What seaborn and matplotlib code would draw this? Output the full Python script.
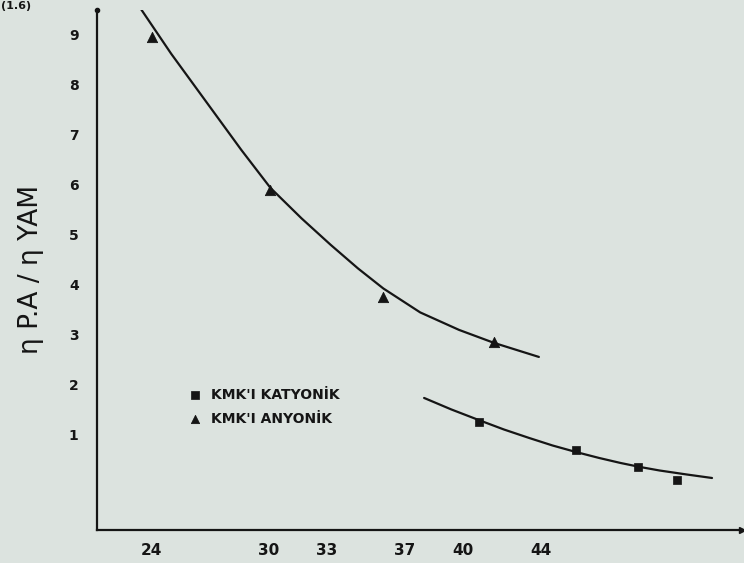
import numpy as np
import pandas as pd
import matplotlib
matplotlib.use("Agg")
import matplotlib.pyplot as plt
import seaborn as sns

# ---- data ----
x_ticks = [24, 30, 33, 37, 40, 44]
y_ticks = [1, 2, 3, 4, 5, 6, 7, 8, 9]

# anyonik (triangles)
any_x = [24.0, 30.1, 35.9, 41.6]
any_y = [8.95, 5.9, 3.75, 2.85]
# katyonik (squares)
kat_x = [40.8, 45.8, 49.0, 51.0]
kat_y = [1.25, 0.70, 0.35, 0.10]

# hand-drawn curves
curve_any_x = [23.4, 25.0, 27.1, 28.6, 30.1, 31.7, 33.2, 34.6, 35.9,
               37.8, 39.8, 41.6, 43.9]
curve_any_y = [9.54, 8.62, 7.50, 6.70, 5.94, 5.33, 4.80, 4.33, 3.93,
               3.45, 3.10, 2.84, 2.56]
curve_kat_x = [38.0, 39.4, 40.8, 42.1, 43.4, 44.6, 45.8, 47.0, 48.1,
               49.1, 50.1, 51.5, 52.8]
curve_kat_y = [1.74, 1.51, 1.30, 1.11, 0.94, 0.79, 0.66, 0.54, 0.44,
               0.36, 0.29, 0.21, 0.14]

label_kat = "KMK'I KATYONİK"
label_any = "KMK'I ANYONİK"
y_label = "η P.A / η YAM"

bg = "#dce3df"
ink = "#151515"

sns.set_style("white")
plt.rcParams["font.family"] = ["DejaVu Sans"]

fig = plt.figure(figsize=(7.44, 5.63), dpi=100, facecolor=bg)
ax = fig.add_axes([0.130, 0.0586, 0.867, 0.924])
ax.set_facecolor(bg)

df_ca = pd.DataFrame({"x": curve_any_x, "y": curve_any_y})
df_ck = pd.DataFrame({"x": curve_kat_x, "y": curve_kat_y})
sns.lineplot(data=df_ca, x="x", y="y", sort=False, color=ink, lw=1.6, ax=ax)
sns.lineplot(data=df_ck, x="x", y="y", sort=False, color=ink, lw=1.6, ax=ax)

df_a = pd.DataFrame({"x": any_x, "y": any_y})
df_k = pd.DataFrame({"x": kat_x, "y": kat_y})
sns.scatterplot(data=df_a, x="x", y="y", marker="^", s=55, color=ink,
                edgecolor=ink, ax=ax, zorder=3, label=label_any)
sns.scatterplot(data=df_k, x="x", y="y", marker="s", s=40, color=ink,
                edgecolor=ink, ax=ax, zorder=3, label=label_kat)

ax.set_xlim(21.17, 54.33)
ax.set_ylim(-0.9, 9.5)
ax.set_xticks(x_ticks)
ax.set_xticklabels([str(v) for v in x_ticks], fontsize=11, fontweight="bold")
ax.set_yticks(y_ticks)
ax.set_yticklabels([str(v) for v in y_ticks], fontsize=10, fontweight="bold")
ax.tick_params(axis="both", length=0, colors=ink)
ax.tick_params(axis="y", pad=13)
ax.tick_params(axis="x", pad=9)
ax.set_xlabel("")
ax.set_ylabel(y_label, fontsize=19, color=ink, labelpad=18)

for s in ["top", "right"]:
    ax.spines[s].set_visible(False)
for s in ["left", "bottom"]:
    ax.spines[s].set_color(ink)
    ax.spines[s].set_linewidth(1.6)

ax.plot(1, 0, ">", color=ink, ms=5, transform=ax.transAxes, clip_on=False)
ax.plot(0, 1, "o", color=ink, ms=3, transform=ax.transAxes, clip_on=False)

handles, labels = ax.get_legend_handles_labels()
order = [labels.index(label_kat), labels.index(label_any)]
leg = ax.legend([handles[i] for i in order], [labels[i] for i in order],
                loc="center left", bbox_to_anchor=(0.125, 0.237),
                frameon=False, fontsize=10, handlelength=0.8,
                handletextpad=0.7, labelspacing=0.75, markerscale=0.8)
for t in leg.get_texts():
    t.set_fontweight("bold")
    t.set_color(ink)

fig.text(0.002, 0.998, "(1.6)", fontsize=8, fontweight="bold", color=ink,
         ha="left", va="top")

fig.savefig("out.png", dpi=100, facecolor=bg)
